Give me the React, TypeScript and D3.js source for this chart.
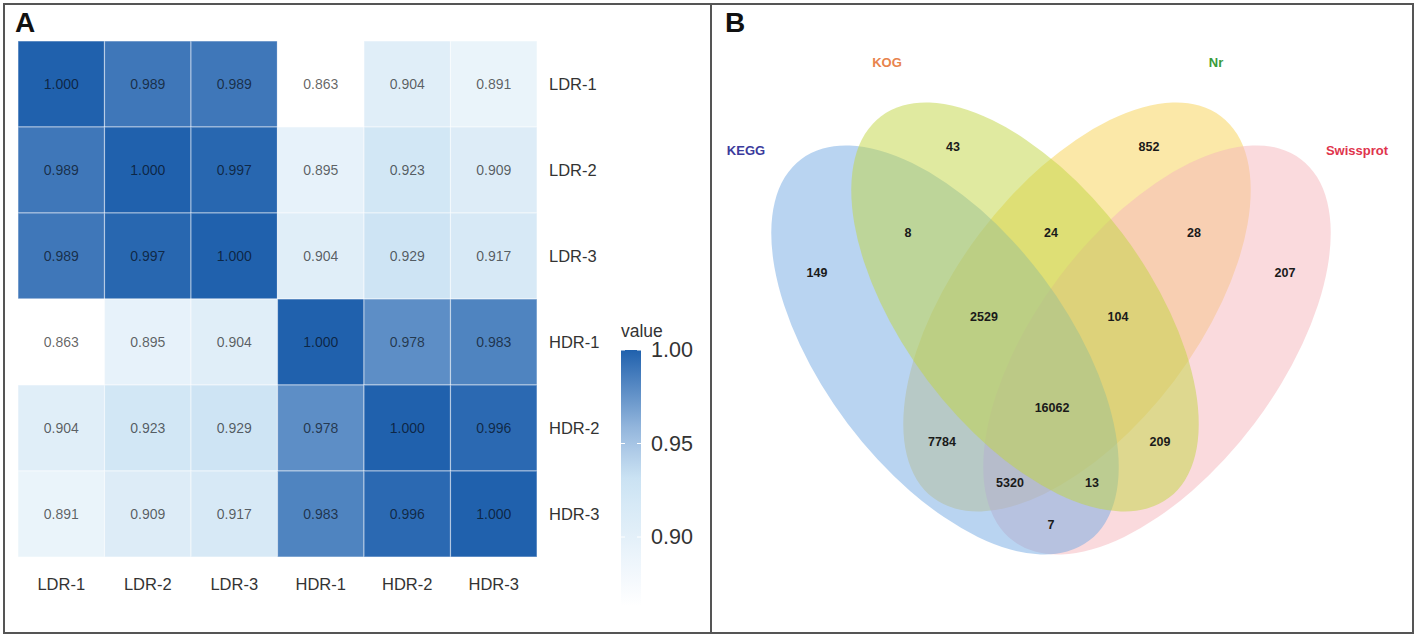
import React from "react";
import * as d3 from "d3";

// ---------- Panel A data ----------
const sampleLabels = ["LDR-1", "LDR-2", "LDR-3", "HDR-1", "HDR-2", "HDR-3"];
const corrLDR1 = [1.0, 0.989, 0.989, 0.863, 0.904, 0.891];
const corrLDR2 = [0.989, 1.0, 0.997, 0.895, 0.923, 0.909];
const corrLDR3 = [0.989, 0.997, 1.0, 0.904, 0.929, 0.917];
const corrHDR1 = [0.863, 0.895, 0.904, 1.0, 0.978, 0.983];
const corrHDR2 = [0.904, 0.923, 0.929, 0.978, 1.0, 0.996];
const corrHDR3 = [0.891, 0.909, 0.917, 0.983, 0.996, 1.0];
const corrRows = [corrLDR1, corrLDR2, corrLDR3, corrHDR1, corrHDR2, corrHDR3];
const legendTicks = [0.9, 0.95, 1.0];
const valueMin = 0.863;
const valueMax = 1.0;

// ---------- Panel B data ----------
const setNames = ["KEGG", "KOG", "Nr", "Swissprot"];
const setLabelColors = ["#3b3b9c", "#e8834c", "#3a9a3a", "#e0344c"];
const setFillColors = ["#73a9e3", "#c1d541", "#f7d151", "#f5b5bb"];
const drawOrder = [2, 3, 0, 1]; // Nr, Swissprot, KEGG, KOG (bottom -> top)
const regionNames = [
  "KEGG", "KOG", "Nr", "Swissprot",
  "KEGG&KOG", "KOG&Nr", "Nr&Swissprot",
  "KEGG&KOG&Nr", "KOG&Nr&Swissprot", "all",
  "KEGG&Nr", "KOG&Swissprot", "KEGG&Nr&Swissprot", "KEGG&KOG&Swissprot", "KEGG&Swissprot",
];
const regionCounts = [149, 43, 852, 207, 8, 24, 28, 2529, 104, 16062, 7784, 209, 5320, 13, 7];

// layout (px offsets relative to the diagram centre)
const regionOffsets: [number, number][] = [
  [-234, -57], [-98, -183], [98, -183], [234, -57],
  [-143, -97], [0, -97], [143, -97],
  [-67, -13], [67, -13], [1, 78],
  [-109, 112], [109, 112], [-41, 153], [41, 153], [0, 195],
];
const ellipseCenters: [number, number][] = [[-106, 20], [-26, -23], [26, -23], [106, 20]];
const ellipseAngles = [53, 53, -53, -53];
const setLabelPos: [number, number][] = [[746, 150], [887, 62], [1216, 62], [1357, 150]];

const FONT = "'Liberation Sans', Arial, Helvetica, sans-serif";

export default function App() {
  const W = 1417, H = 638;

  const x = d3.scaleBand<string>().domain(sampleLabels).range([18, 537]);
  const y = d3.scaleBand<string>().domain(sampleLabels).range([41, 557]);
  const color = d3
    .scaleLinear<string>()
    .domain([valueMin, 0.93, 0.955, valueMax])
    .range(["#ffffff", "#cde4f4", "#9dbde0", "#2061ad"])
    .interpolate(d3.interpolateRgb)
    .clamp(true);

  const legY = d3.scaleLinear().domain([valueMax, 0.9]).range([350, 537]);
  const legX0 = 621, legW = 20;
  const legStops = d3.range(0, 11).map((i) => valueMin + ((valueMax - valueMin) * i) / 10);

  const vcx = 1051, vcy = 330;
  const rx = 239, ry = 122;

  return (
    <svg
      width={W}
      height={H}
      style={{ position: "absolute", left: 0, top: 0, background: "#fff" }}
      fontFamily={FONT}
    >
      <defs>
        <linearGradient id="legGrad" x1="0" y1="1" x2="0" y2="0">
          {legStops.map((v, i) => (
            <stop key={i} offset={`${(i / 10) * 100}%`} stopColor={color(v)} />
          ))}
        </linearGradient>
      </defs>
      <rect x={0} y={0} width={W} height={H} fill="#fff" />

      <rect x={4} y={4} width={1409} height={629} fill="none" stroke="#555" strokeWidth={2} />
      <line x1={711} y1={4} x2={711} y2={633} stroke="#555" strokeWidth={2} />

      {/* Panel A */}
      <text x={15} y={32} fontSize={28} fontWeight="bold" fill="#111">A</text>
      <g>
        {corrRows.map((row, ri) =>
          row.map((v, ci) => (
            <rect
              key={`c${ri}-${ci}`}
              x={x(sampleLabels[ci])}
              y={y(sampleLabels[ri])}
              width={x.bandwidth()}
              height={y.bandwidth()}
              fill={color(v)}
              stroke="#ffffff"
              strokeOpacity={0.45}
              strokeWidth={1.2}
            />
          ))
        )}
        {corrRows.map((row, ri) =>
          row.map((v, ci) => (
            <text
              key={`t${ri}-${ci}`}
              x={(x(sampleLabels[ci]) as number) + x.bandwidth() / 2}
              y={(y(sampleLabels[ri]) as number) + y.bandwidth() / 2}
              textAnchor="middle"
              dominantBaseline="central"
              fontSize={14}
              fill="#000"
              fillOpacity={0.62}
            >
              {v.toFixed(3)}
            </text>
          ))
        )}
        {sampleLabels.map((s) => (
          <text
            key={`xl${s}`}
            x={(x(s) as number) + x.bandwidth() / 2}
            y={584}
            textAnchor="middle"
            dominantBaseline="central"
            fontSize={16.5}
            fill="#333"
          >
            {s}
          </text>
        ))}
        {sampleLabels.map((s) => (
          <text
            key={`yl${s}`}
            x={549}
            y={(y(s) as number) + y.bandwidth() / 2}
            dominantBaseline="central"
            fontSize={16.5}
            fill="#333"
          >
            {s}
          </text>
        ))}
      </g>

      {/* legend */}
      <g>
        <text x={legX0} y={337} fontSize={17.5} fill="#333">value</text>
        <rect x={legX0} y={legY(valueMax)} width={legW} height={legY(valueMin) - legY(valueMax)} fill="url(#legGrad)" />
        {legendTicks.map((t) => (
          <g key={`lt${t}`}>
            <line x1={legX0} x2={legX0 + 4} y1={legY(t)} y2={legY(t)} stroke="#fff" strokeWidth={1} />
            <line x1={legX0 + legW - 4} x2={legX0 + legW} y1={legY(t)} y2={legY(t)} stroke="#fff" strokeWidth={1} />
            <text x={651} y={legY(t)} dominantBaseline="central" fontSize={21.5} fill="#333">
              {t.toFixed(2)}
            </text>
          </g>
        ))}
      </g>

      {/* Panel B */}
      <text x={725} y={32} fontSize={28} fontWeight="bold" fill="#111">B</text>
      <g transform={`translate(${vcx},${vcy})`}>
        {drawOrder.map((i) => (
          <ellipse
            key={`e${setNames[i]}`}
            cx={ellipseCenters[i][0]}
            cy={ellipseCenters[i][1]}
            rx={rx}
            ry={ry}
            transform={`rotate(${ellipseAngles[i]} ${ellipseCenters[i][0]} ${ellipseCenters[i][1]})`}
            fill={setFillColors[i]}
            fillOpacity={0.5}
          />
        ))}
        {regionCounts.map((c, i) => (
          <text
            key={`r${regionNames[i]}`}
            x={regionOffsets[i][0]}
            y={regionOffsets[i][1]}
            textAnchor="middle"
            dominantBaseline="central"
            fontSize={12.5}
            fontWeight="bold"
            fill="#1a1a1a"
          >
            {c}
          </text>
        ))}
      </g>
      {setNames.map((n, i) => (
        <text
          key={`sl${n}`}
          x={setLabelPos[i][0]}
          y={setLabelPos[i][1]}
          textAnchor="middle"
          dominantBaseline="central"
          fontSize={13}
          fontWeight="bold"
          fill={setLabelColors[i]}
        >
          {n}
        </text>
      ))}
    </svg>
  );
}
